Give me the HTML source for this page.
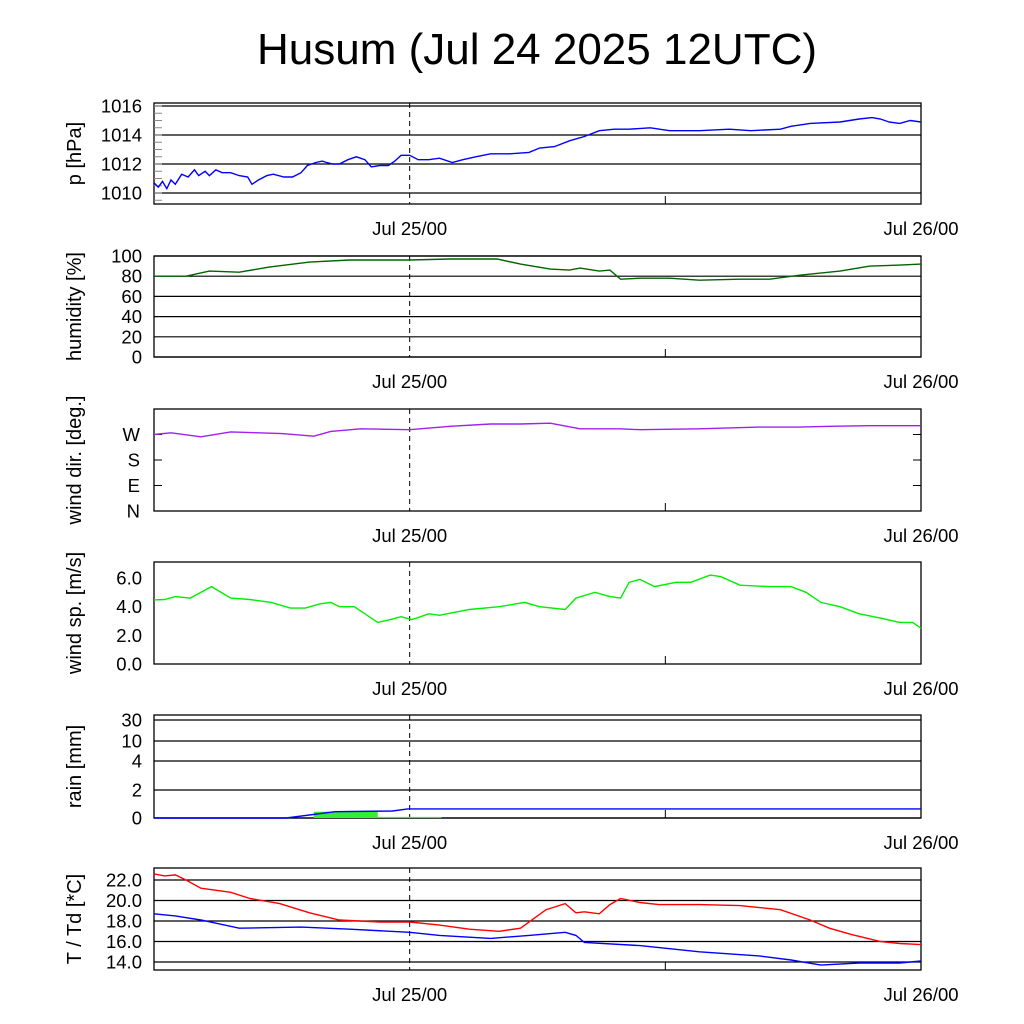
<!DOCTYPE html>
<html><head><meta charset="utf-8"><style>
body{margin:0;background:#fff}
svg{display:block;font-family:"Liberation Sans",sans-serif}
</style></head><body>
<svg id="chart" width="1024" height="1024" viewBox="0 0 1024 1024" xmlns="http://www.w3.org/2000/svg">
<rect width="1024" height="1024" fill="#fff"/>
<text x="537" y="64" font-size="44" text-anchor="middle">Husum (Jul 24 2025 12UTC)</text>
</svg>
<script>
// time axis: hours since Jul 24 12UTC
const xTickHours=[12,24,36];
const xTickLabels=["Jul 25/00","Jul 26/00"];
// pressure
const pT=[0,.2,.4,.6,.8,1.0,1.3,1.6,1.9,2.1,2.4,2.6,2.9,3.2,3.6,4.0,4.4,4.6,4.9,5.3,5.6,6.1,6.5,6.9,7.2,7.6,7.9,8.1,8.4,8.7,9.1,9.5,9.9,10.2,10.6,11.0,11.3,11.6,12.0,12.4,12.9,13.4,14.0,14.5,15.1,15.8,16.7,17.6,18.1,18.8,19.5,20.2,20.9,21.6,22.3,23.3,24.2,25.6,27.0,28.0,29.4,29.9,30.8,32.2,33.1,33.7,34.1,34.5,35.0,35.5,36];
const pV=[1010.7,1010.4,1010.8,1010.3,1010.9,1010.6,1011.3,1011.1,1011.6,1011.2,1011.5,1011.2,1011.6,1011.4,1011.4,1011.2,1011.1,1010.6,1010.9,1011.2,1011.3,1011.1,1011.1,1011.4,1011.9,1012.1,1012.2,1012.1,1012.0,1012.0,1012.3,1012.5,1012.3,1011.8,1011.9,1011.9,1012.2,1012.6,1012.6,1012.3,1012.3,1012.4,1012.1,1012.3,1012.5,1012.7,1012.7,1012.8,1013.1,1013.2,1013.6,1013.9,1014.3,1014.4,1014.4,1014.5,1014.3,1014.3,1014.4,1014.3,1014.4,1014.6,1014.8,1014.9,1015.1,1015.2,1015.1,1014.9,1014.8,1015.0,1014.9];
const pTicks=[1010,1012,1014,1016];
// humidity
const hT=[0,1.5,2.6,4.0,5.4,7.3,9.2,12,13.9,16.1,17.2,18.6,19.5,20,20.9,21.4,21.9,22.8,24.2,25.6,27.5,28.9,30.3,32.2,33.6,35,36];
const hV=[80,80,85,84,89,94,96,96,97,97,92,87,86,88,85,86,77,78,78,76,77,77,81,85,90,91,92];
const hTicks=[0,20,40,60,80,100];
// wind direction
const dT=[0,.8,2.2,3.6,6.0,7.5,8.3,9.7,12,13.9,15.8,17.2,18.6,20,21.9,22.8,25.6,28.4,30.3,31.7,33.6,36];
const dV=[270,276,262,279,273,264,281,290,287,299,307,307,310,290,290,287,290,296,296,299,301,301];
const dTicks=[0,90,180,270];
const dTickLabels=["N","E","S","W"];
// wind speed
const sT=[0,.5,1.0,1.7,2.7,3.6,4.5,5.5,6.4,7.1,7.8,8.3,8.7,9.4,10.5,11.1,11.6,12.1,12.9,13.4,14.8,16.2,17.4,18.1,19.3,19.8,20.7,21.4,21.9,22.3,22.8,23.5,24.5,25.2,26.1,26.6,27.5,28.9,29.9,30.6,31.3,32.2,33.1,34.1,35.0,35.6,36];
const sV=[4.47,4.5,4.7,4.6,5.4,4.6,4.5,4.3,3.9,3.9,4.2,4.3,4.0,4.0,2.9,3.1,3.3,3.1,3.5,3.4,3.8,4.0,4.3,4.0,3.8,4.6,5.0,4.7,4.6,5.7,5.9,5.4,5.7,5.7,6.2,6.1,5.5,5.4,5.4,5.0,4.3,4.0,3.5,3.2,2.9,2.9,2.5];
const sTicks=[0,2,4,6];
const sTickLabels=["0.0","2.0","4.0","6.0"];
// rain
const rT=[0,6.2,8.5,11.2,11.9,36];
const rV=[0,0,0.45,0.5,0.65,0.65];
const rBarStart=[7.5,10.5];
const rBarEnd=[10.5,13.5];
const rBarV=[0.45,0.08];
const rTicks=[0,2,4,10,30];
// temperature / dew point
const tT=[0,.5,1.0,1.5,2.2,3.6,4.5,5.9,7.3,8.7,10.6,12,13.4,14.8,16.2,17.2,18.4,19.3,19.8,20.2,20.9,21.4,21.9,22.8,23.7,25.6,27.5,29.4,30.8,31.7,32.7,34.1,35.0,36];
const tV=[22.6,22.4,22.5,22.0,21.2,20.8,20.2,19.7,18.8,18.1,17.9,17.9,17.6,17.2,17.0,17.3,19.1,19.7,18.8,18.9,18.7,19.6,20.2,19.8,19.6,19.6,19.5,19.1,18.1,17.3,16.7,16.0,15.8,15.7];
const tdT=[0,1.0,2.2,4.0,6.9,9.2,12,13.4,15.8,17.6,19.3,19.8,20.2,22.8,23.7,25.6,28.4,29.9,31.3,33.1,35.0,36];
const tdV=[18.7,18.5,18.1,17.3,17.4,17.2,16.9,16.6,16.3,16.6,16.9,16.6,15.9,15.6,15.4,15.0,14.6,14.2,13.7,13.9,13.9,14.1];
const tTicks=[14,16,18,20,22];
const tTickLabels=["14.0","16.0","18.0","20.0","22.0"];

const NS="http://www.w3.org/2000/svg";
const svg=document.getElementById("chart");
const X0=154,X1=921;
const FS=18.5;
const xs=h=>X0+(X1-X0)*h/36;
function mk(tag,attrs,parent){const e=document.createElementNS(NS,tag);for(const k in attrs)e.setAttribute(k,attrs[k]);(parent||svg).appendChild(e);return e;}
function linScale(v0,v1,y0,y1){return v=>y0+(v-v0)*(y1-y0)/(v1-v0);}
function pwScale(vals,ys){return v=>{for(let i=0;i<vals.length-1;i++){if(v<=vals[i+1]||i==vals.length-2){return ys[i]+(v-vals[i])*(ys[i+1]-ys[i])/(vals[i+1]-vals[i]);}}};}

function panel(name,top,bot,ys,ticks,labels,ylabel){
  const g=mk("g",{});
  
  
  ticks.forEach((t,i)=>{
    const y=ys(t);
    const gl=mk("line",{x1:X0,x2:X1,y1:y,y2:y,stroke:"#000","stroke-width":1.2},g);
    
    
    const tx=mk("text",{x:X0-12,y:y+6.5,"font-size":FS,"text-anchor":"end"},g);
    
    
    tx.textContent=labels?labels[i]:String(t);
  });
  const dl=mk("line",{x1:xs(12),x2:xs(12),y1:top,y2:bot,stroke:"#000","stroke-width":1,"stroke-dasharray":"5,4"},g);
  
  
  const tk=mk("line",{x1:xs(24),x2:xs(24),y1:bot-8,y2:bot,stroke:"#000"},g);
  
  
  xTickLabels.forEach((l,i)=>{
    const t=mk("text",{x:xs(xTickHours[i*2]),y:bot+31,"font-size":FS,"text-anchor":"middle"},g);
    
    
    t.textContent=l;
  });
  const fr=mk("rect",{x:X0,y:top,width:X1-X0,height:bot-top,fill:"none",stroke:"#000","stroke-width":1.3},g);
  
  
  const yl=mk("text",{x:0,y:0,"font-size":20,"text-anchor":"middle",transform:`translate(81,${(top+bot)/2}) rotate(-90)`},g);
  
  
  yl.textContent=ylabel;
  return g;
}
function line(g,T,V,ys,color,name){
  const d=T.map((t,i)=>(i?"L":"M")+xs(t).toFixed(1)+","+ys(V[i]).toFixed(1)).join("");
  const p=mk("path",{d:d,fill:"none",stroke:color,"stroke-width":1.4},g);
  
  
}
let ys,g;
ys=linScale(1010,1016,193,106);
g=panel("pressure",103,204,ys,pTicks,null,"p [hPa]");
for(let v=1009.5;v<=1016.1;v+=0.5){
  const m=mk("line",{x1:X0,x2:X0+8,y1:ys(v),y2:ys(v),stroke:"#888"},g);
  
  
}
line(g,pT,pV,ys,"#0000ff","pressure-line");

ys=linScale(0,100,357,256);
g=panel("humidity",256,357,ys,hTicks,null,"humidity [%]");
line(g,hT,hV,ys,"#006400","humidity-line");

ys=linScale(0,360,511,409);
g=panel("wind-direction",409,511,ys,[],null,"wind dir. [deg.]");
dTicks.forEach((t,i)=>{
  const tx=mk("text",{x:X0-14,y:ys(t)+6.5,"font-size":FS,"text-anchor":"end"},g);
  
  
  tx.textContent=dTickLabels[i];
  const tl=mk("line",{x1:X0,x2:X0+8,y1:ys(t),y2:ys(t),stroke:"#000"},g);
  
  
  const tr=mk("line",{x1:X1-8,x2:X1,y1:ys(t),y2:ys(t),stroke:"#000"},g);
  
  
});
line(g,dT,dV,ys,"#a020f0","wind-direction-line");

ys=linScale(0,6,664,578);
g=panel("wind-speed",562,664,ys,[],null,"wind sp. [m/s]");
sTicks.forEach((t,i)=>{
  const tx=mk("text",{x:X0-12,y:ys(t)+6.5,"font-size":FS,"text-anchor":"end"},g);
  
  
  tx.textContent=sTickLabels[i];
});
line(g,sT,sV,ys,"#00ee00","wind-speed-line");

ys=pwScale([0,2,4,10,30],[818,790,761,741,720]);
g=panel("rain",715,818,ys,rTicks,null,"rain [mm]");
rBarStart.forEach((s,i)=>{
  const b=mk("rect",{x:xs(s),y:ys(rBarV[i]),width:xs(rBarEnd[i])-xs(s),height:ys(0)-ys(rBarV[i]),fill:"#33ee33"},g);
  
  
});
line(g,rT,rV,ys,"#0000ff","rain-cumulative-line");

ys=linScale(14,22,962,880);
g=panel("temperature",868,970,ys,tTicks,tTickLabels,"T / Td [*C]");
line(g,tT,tV,ys,"#ff0000","temperature-line");
line(g,tdT,tdV,ys,"#0000ff","dewpoint-line");
</script>
</body></html>
